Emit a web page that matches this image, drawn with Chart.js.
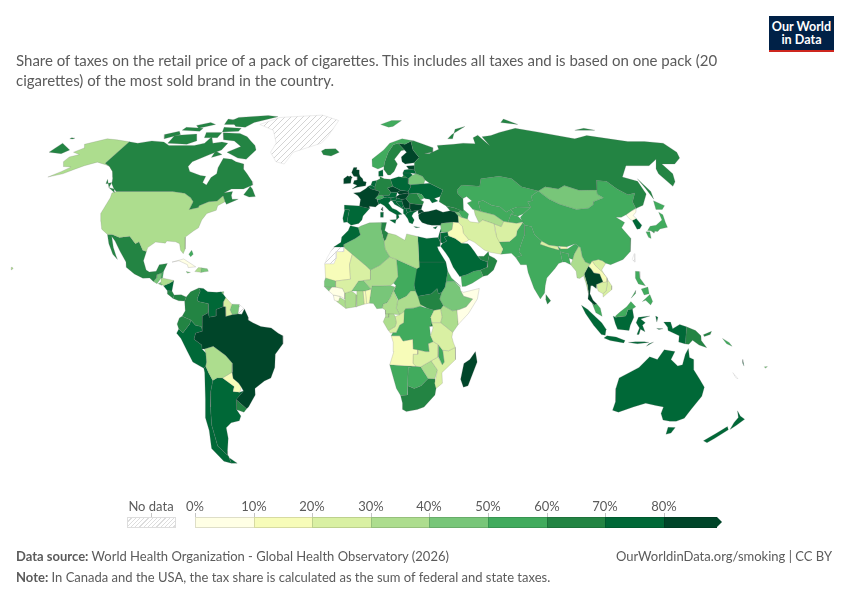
<!DOCTYPE html>
<html>
<head>
<meta charset="utf-8">
<title>Share of taxes on the retail price of cigarettes</title>
<script src="https://cdn.jsdelivr.net/npm/chart.js@4"></script>
<style>
  html, body { margin: 0; padding: 0; background: #fff; }
  #page { position: relative; width: 850px; height: 600px; overflow: hidden; font-family: Lato, "Open Sans", sans-serif; color: #5b5b5b; }
  #map { position: absolute; left: 0; top: 0; }
  .txt { position: absolute; white-space: nowrap; }
  #subtitle { left: 16px; top: 51px; font-size: 15px; line-height: 19.5px; white-space: normal; width: 720px; }
  #logo { position: absolute; left: 769px; top: 16px; width: 65px; height: 28.5px; padding-top: 5px; background: #002147; border-bottom: 2.5px solid #ce261e; color: #fff; font-weight: 700; font-size: 12.6px; line-height: 12.5px; text-align: center; }
  .lab { position: absolute; top: 498px; font-size: 13px; transform: translateX(-50%); }
  .bin { position: absolute; top: 517px; height: 11px; box-sizing: border-box; border: 1px solid rgba(0,0,0,0.13); border-width: 1px 0 1px 1px; }
  .tick { position: absolute; top: 513px; width: 1px; height: 4px; background: #c4c4c4; }
  #nodata { position: absolute; left: 127px; top: 517px; width: 49px; height: 11px; box-sizing: border-box; border: 1px solid #ddd; background: repeating-linear-gradient(135deg, #fff 0 2px, #ddd 2px 3px); }
  #arrow { position: absolute; left: 717px; top: 517px; width: 0; height: 0; border-top: 5.5px solid transparent; border-bottom: 5.5px solid transparent; border-left: 5px solid #004529; }
</style>
</head>
<body>
<div id="page">
  <canvas id="map" width="850" height="600"></canvas>
  <div class="txt" id="subtitle">Share of taxes on the retail price of a pack of cigarettes. This includes all taxes and is based on one pack (20 cigarettes) of the most sold brand in the country.</div>
  <div id="logo">Our World<br>in Data</div>
  <div id="legend"></div>
  <div class="txt" style="left:16px;top:548px;font-size:13px"><b>Data source:</b> World Health Organization - Global Health Observatory (2026)</div>
  <div class="txt" style="right:18px;top:548px;font-size:13px">OurWorldinData.org/smoking | CC BY</div>
  <div class="txt" style="left:16px;top:569px;font-size:13px"><b>Note:</b> In Canada and the USA, the tax share is calculated as the sum of federal and state taxes.</div>
</div>
<script>
// legend bins
const binLabels = ['0%', '10%', '20%', '30%', '40%', '50%', '60%', '70%', '80%'];
const binLimits = [10, 20, 30, 40, 50, 60, 70, 80, 101];
const binColors = ['#ffffe5', '#f7fcb9', '#d9f0a3', '#addd8e', '#78c679', '#41ab5d', '#238443', '#006837', '#004529'];

// tax share in percent, read from the colour of each country (null = no data)
const countries = ['Canada','USA','Greenland','Mexico','Guatemala','Belize','Honduras','El Salvador','Nicaragua','Costa Rica','Panama','Cuba','Jamaica','Haiti','Dominican Rep.','Bahamas','Trinidad',
  'Colombia','Venezuela','Guyana','Suriname','French Guiana','Ecuador','Peru','Bolivia','Paraguay','Chile','Argentina','Uruguay','Brazil',
  'Iceland','Ireland','UK','France','Spain','Portugal','Belgium','Netherlands','Germany','Denmark','Switzerland','Austria','Italy','Poland','Czechia','Slovakia','Hungary','Slovenia','Croatia','Bosnia','Serbia','Montenegro','Albania','N. Macedonia','Bulgaria','Romania','Greece','Moldova','Ukraine','Belarus','Lithuania','Latvia','Estonia','Norway','Sweden','Finland','Russia',
  'Turkey','Georgia','Armenia','Azerbaijan','Cyprus','Syria','Lebanon','Israel','Jordan','Iraq','Iran','Saudi Arabia','Yemen','Oman','UAE','Kazakhstan','Uzbekistan','Turkmenistan','Tajikistan','Kyrgyzstan','Afghanistan','Pakistan','India','Nepal','Bhutan','Bangladesh','Sri Lanka','China','Mongolia','North Korea','South Korea','Japan','Taiwan','Myanmar','Thailand','Laos','Cambodia','Vietnam','Malaysia','Indonesia','Philippines','Papua New Guinea','Solomon Is.','Vanuatu','Fiji','New Caledonia','Australia','New Zealand',
  'Morocco','Western Sahara','Algeria','Tunisia','Libya','Egypt','Sudan','South Sudan','Eritrea','Ethiopia','Somalia','Kenya','Uganda','Rwanda','Tanzania','DR Congo','Gabon','Congo','Eq. Guinea','Cameroon','CAR','Chad','Niger','Mali','Mauritania','Senegal','Guinea-Bissau','Guinea','Sierra Leone','Liberia','Ivory Coast','Ghana','Togo','Benin','Nigeria','Burkina Faso','Angola','Zambia','Malawi','Mozambique','Zimbabwe','Botswana','Namibia','South Africa','Lesotho','Eswatini','Madagascar'];
const taxShare = [65,35,null,65,45,50,35,45,75,65,65,6,45,38,45,55,40,
  65,75,25,42,null,65,75,35,14,75,75,65,85,
  65,85,85,85,75,75,75,75,65,75,55,75,75,72,85,85,85,75,75,75,85,75,75,75,85,65,75,55,75,48,75,75,85,55,65,85,65,
  85,65,42,55,75,45,72,75,75,15,25,75,55,65,65,55,55,35,55,55,25,55,55,25,15,58,65,55,45,6,70,55,null,35,85,15,22,28,55,75,55,65,55,72,42,null,75,75,
  75,null,45,65,35,75,75,65,52,45,6,35,25,62,25,55,35,25,35,35,35,55,35,25,15,45,45,6,6,32,32,32,15,14,45,45,15,25,50,25,35,55,55,65,55,45,85];

// outlines: name, then one flat lon,lat list per polygon
const outlines = [
['Russia',[28,60.5,31.5,62.8,29,66,29,69.9,31,70,41,67,40,65,35,64.5,38,64.5,44,66.3,44,68,54,68.5,60,69,67,68.7,68,71.5,72,72.7,75,68,74,72,80,72.5,87,74,100,76,113,74,130,71,140,72.5,160,69.7,170,69.7,179.9,69,179.9,65,177,62.5,170,60,163,60,163,56,160,52.8,156.7,51,155.5,56,157,58,163,62,155,59.3,142.5,59.3,135,54.7,141,53,140.3,48,135,43.6,131,42.5,130.7,42.3,131,45,135,48.4,131,47.7,127.5,50,125,53,120,53.3,117,49.6,108,49.5,102,51.3,98,50,92,50.8,87.5,49.2,80,50.8,77,54,71,55,61,54,59,51,50,51.5,47,49.5,47,48,49,46.3,48,42,47.5,41.3,44,42.6,40,43.4,37,45,38,47,40,49.6,34,52.2,32,53.5,31,55,28,56,27.5,57.6,28,59.4],
  [-180,69,-170,66,-172,64.4,-180,65],[-180,71.5,-177.5,71.3,-178,70.9,-180,71],[142,54,143.5,49,142.2,46,142,50],[52,71,56,73,68,77,60,75.5,55,71],[95,79,105,78,100,81],[137,75,150,75,145,76],[20,54.4,22.7,54.4,22,55.2,21,55.2]],
['Canada',[-141,69.6,-135,69,-128,70,-120,69.5,-115,68,-108,68,-100,68,-95,69,-94,72,-90,69,-85,69.5,-81,69,-82,66,-87,64,-94,61,-94.5,59,-92,57,-85,55.3,-82,55,-82,52.5,-79.5,51.5,-79,54.5,-77,56,-78,58.5,-78,62.4,-73,62,-70,61,-65,60,-64,58,-61,56,-57,53,-56,51.5,-60,50,-66,50,-69,48.5,-65,49,-65,47.5,-64,46,-61,46,-66,44,-67,45,-69,47.3,-71,45.3,-75,45,-79,43.5,-79,42.8,-83,42,-82.5,45,-84.5,46.5,-88.5,48.3,-95,49,-123,49,-125,50,-128,52,-130,54.5,-133,57,-137,59,-141,60.3],
  [-62,66,-64,68,-68,70,-72,72,-78,73.5,-89,73.8,-85,70.5,-78,70,-72,67.5,-78,65,-70,62.5,-65,62],[-105,73.2,-118,72.6,-117,69,-105,68.5,-101,70],[-62,82.5,-70,83.2,-90,82,-92,80,-85,77,-78,76.5,-75,79],[-118,74.5,-125,73,-122,71,-115,73],[-80,76,-92,76.5,-90,74.2,-80,74.5],[-59,47.7,-57,51,-55.5,50,-53,47,-56,46.8],[-123.5,48.5,-128,50.5,-125,50],[-96,81,-88,80,-86,78,-94,78],[-117,76.5,-105,76,-105,74.5,-117,75],[-85,65.5,-80,64,-85,62.8],[-100,74,-90,74,-90,71.5,-98,71.5],[-105,79,-100,78,-108,76,-112,77.5],[-128,50.5,-132,53.8,-131,52,-128.5,52.5]],
['USA',[-123,49,-95,49,-88.5,48.3,-84.5,46.5,-82.5,45,-83,42,-79,42.8,-79,43.5,-75,45,-71,45.3,-69,47.3,-67,45,-70,43.5,-70,41.7,-74,40.5,-75.5,38,-76,35,-78,33.8,-81,31.5,-80,27,-80.5,25.2,-82,26.5,-83,29,-85,29.7,-89,30,-89.5,29.2,-94,29.6,-97,27.5,-97.2,26,-99,26.5,-101.5,29.7,-103,29,-106.5,31.8,-111,31.3,-114.8,32.5,-117,32.5,-120.5,34.5,-122.5,37.5,-124.3,40.5,-124,46.5,-124.7,48.4],
  [-141,69.6,-141,60.3,-137,59,-133,57,-130,54.9,-134,58.5,-140,59.7,-146,60.8,-151,59.3,-154,58,-158,56,-164,54.7,-160,57,-157.5,58.8,-162,59,-165,61,-165,63,-161,64,-166,65,-163,67,-166,68.5,-157,71,-150,70.5],
  [-155.5,20,-155,19.5,-155.8,19,-156,20]],
['Greenland',[-20,75,-17,80,-30,83.5,-60,82,-70,78,-58,75,-52,69,-53,65,-48,61,-43,60,-40,65,-25,69,-22,72]],
['Mexico',[-117,32.5,-114.8,32.5,-111,31.3,-106.5,31.8,-103,29,-101.5,29.7,-99,26.5,-97.2,26,-97.8,22.5,-96,19,-94.5,18.2,-91.5,18.5,-90.5,21,-87,21.5,-88.2,18.5,-89,17.9,-91,17.2,-91,16,-92.2,14.6,-94,16,-97,15.9,-101,17.5,-105,20,-105.5,22,-109,26,-112.5,30,-114.7,31.7,-112.5,27.5,-110.5,24.5,-109.5,23,-112,25,-115,29]],
['Guatemala',[-92.2,14.6,-91,16,-91,17.2,-89.2,17.9,-89,15.9,-90.5,13.8]],['Belize',[-89.2,17.9,-88.2,18.5,-88.3,16,-89,15.9]],['Honduras',[-89,15.9,-88,15.9,-83.2,15,-85,14,-87.5,13,-89,14]],['El Salvador',[-90,13.8,-89,14.3,-87.7,13.4,-88.5,13.2]],['Nicaragua',[-87.6,13,-85,14,-83.2,15,-83.7,11,-85.7,11.1]],['Costa Rica',[-85.7,11.1,-83.7,11,-82.6,9.5,-83,8.2,-85.7,10]],['Panama',[-83,8.2,-82.6,9.5,-79.5,9.6,-77.3,8.7,-77.9,7.2,-80.5,7.3]],
['Cuba',[-85,22,-80,23.2,-74.2,20.2,-77.5,19.9,-78,21,-82,22.5]],['Jamaica',[-78.3,18.4,-76.3,18.1,-77.5,17.8]],['Haiti',[-74.4,18.4,-73,19.9,-71.7,19.8,-71.7,18.1]],['Dominican Rep.',[-71.7,19.8,-69,19.5,-68.4,18.5,-70,18.3,-71.7,18]],['Bahamas',[-78,25,-77,26.5,-76,25,-77,24]],['Trinidad',[-61.8,10.1,-61,10.1,-61,10.8,-61.7,10.7]],
['Brazil',[-60,5,-59.8,1.3,-57,2,-54.5,2.3,-52.8,2.2,-51.7,4.2,-50,1,-50,0,-48,-1,-44.5,-2.5,-40,-3,-37,-5,-35,-6,-35,-9,-38.5,-13,-39,-18,-41,-22,-44,-23.2,-48.5,-26,-48.7,-28.5,-52.5,-33,-53.5,-33.7,-57.6,-30.2,-53.8,-27,-54.5,-25.5,-55.5,-24,-57.8,-22.2,-58,-19.8,-57.5,-16.5,-60.3,-13.5,-65.5,-10,-69.5,-11,-70.5,-11,-70.5,-9.5,-73.8,-7.3,-73,-5,-69.9,-4.2,-70,1.5,-67.5,2.8,-67,1,-64,1.5,-64,4,-61,5]],
['Colombia',[-77.3,8.7,-75.5,10.7,-72,12.2,-71.3,11,-72.5,8,-72,7,-67.5,6.2,-67.5,2.8,-70,1.5,-69.9,-4.2,-70.5,-2.5,-73,-2,-75,0,-78.8,1.4,-77.5,3.5,-77.9,7.2]],
['Venezuela',[-71.3,11,-72,12.2,-70,12,-68,10.7,-64,10.5,-62,10.7,-60,8.5,-61,6.8,-61,5,-64,4,-64,1.5,-67,1,-67.5,2.8,-67.5,6.2,-72,7,-72.5,8]],
['Guyana',[-60,8.5,-57.2,6,-58,3.8,-57,2,-59.8,1.3,-60,5,-61,5,-61,6.8]],['Suriname',[-57.2,6,-54,5.9,-54.5,2.3,-57,2,-58,3.8]],['French Guiana',[-54,5.9,-51.7,4.2,-52.8,2.2,-54.5,2.3]],
['Ecuador',[-78.8,1.4,-75,0,-75.5,-1.5,-78.5,-4.8,-80.3,-3.4,-81,-1.5,-80,0.8]],
['Peru',[-80.3,-3.4,-78.5,-4.8,-75.5,-1.5,-75,0,-73,-2,-70.5,-2.5,-69.9,-4.2,-73,-5,-73.8,-7.3,-70.5,-9.5,-70.5,-11,-69,-12.5,-69,-16,-69.5,-17.5,-70.4,-18.3,-75,-16,-77,-12,-79.5,-7,-81.3,-5]],
['Bolivia',[-69.5,-11,-65.5,-10,-60.3,-13.5,-57.5,-16.5,-58,-19.8,-62.5,-22,-65,-22,-67,-23,-68.5,-20,-69.5,-17.5,-69,-16,-69,-12.5]],
['Paraguay',[-62.5,-22,-58,-19.8,-57.8,-22.2,-55.5,-24,-54.5,-25.5,-55.5,-27.4,-58.5,-27.2,-57.7,-25.3]],
['Chile',[-69.5,-17.5,-68.5,-20,-67,-23,-68.5,-27,-70,-33,-71.5,-40,-72,-48,-68.5,-52,-68.6,-54.8,-72,-54,-75.5,-49,-73.5,-42,-73.5,-37,-71.5,-30,-70.2,-20,-70.4,-18.3]],
['Argentina',[-67,-23,-65,-22,-62.5,-22,-57.7,-25.3,-58.5,-27.2,-55.5,-27.4,-53.8,-27,-57.6,-30.3,-58.2,-34,-56.8,-36.5,-58,-38.3,-62,-39,-65,-41,-65.5,-45,-68,-50,-69,-52,-68.5,-52,-72,-48,-71.5,-40,-70,-33,-68.5,-27],[-68.5,-52.6,-68.6,-54.8,-65.5,-54.8]],
['Uruguay',[-57.6,-30.2,-53.5,-33.7,-55,-35,-58.4,-34]],
['Iceland',[-24,65.5,-22,66.4,-16,66.5,-13.6,65,-18,63.4,-22.5,63.9]],['Ireland',[-10,52,-10,54,-8,55.2,-6,54.2,-6.3,52.2]],
['UK',[-5.5,50,-3,50.6,1.3,51.2,1.7,52.7,0.2,53,-0.2,54,-1.5,55,-2,56,-2,57.6,-3.5,57.7,-3.2,58.6,-5,58.6,-6,56.5,-4.8,55,-3,54.8,-3,53.5,-4.5,53.3,-5,52,-3,51.4],[-8,54.5,-6.5,55.2,-5.5,54.4,-6.5,54]],
['France',[-4.7,48.4,-1.5,48.7,1.5,50.1,2.6,51,4.2,50,6,49.6,8.2,49,7.6,47.6,6,46.3,6.8,46,7.5,44,6,43,3,43.3,3.2,42.4,-1.7,43.3,-1.2,46,-2.5,47.3],[8.6,42,9.4,43,9.4,41.4]],
['Spain',[-9,43.7,-1.7,43.4,3.2,42.4,0,39.5,-0.5,38,-2,36.7,-5.5,36,-7.4,37.2,-7,39.6,-6.5,41.9,-8.7,42]],['Portugal',[-8.7,42,-6.5,41.9,-7,39.6,-7.4,37.2,-9,37,-9.5,38.7]],
['Belgium',[2.6,51,4,51.4,6,50.7,6,49.6,4.2,50]],['Netherlands',[4,51.4,4.8,53,7,53.3,6,50.7]],
['Germany',[6,50.7,7,53.3,8.8,54,8.8,54.9,11,54,14.2,53.8,15,51,12.3,50.3,13.8,48.7,13,47.5,9.6,47.5,7.6,47.6,8.2,49,6,49.6]],['Denmark',[8.2,55,8.3,57,10.6,57.7,10.5,55]],
['Austria',[9.6,47.5,13,47.5,13.8,48.7,17,48.6,16.3,46.9,13.7,46.5,12,46.8,10.4,46.6]],['Switzerland',[6,46.3,7.6,47.6,9.6,47.5,10.4,46.6,8.5,46,6.8,46]],
['Italy',[7,45.9,8.5,46,10.4,46.6,12,46.8,13.7,46.5,13.6,45.5,12.3,44.5,14,42.5,16,41.8,18.5,40.2,16.7,40,17,39,15.7,38,15.8,40,12.5,41.5,10.3,43.5,8.5,44.3,7.5,44],[12.5,38,15.6,38.2,15,36.7],[8.3,39,8.3,41,9.7,41,9.5,39]],
['Poland',[14.2,53.8,18.5,54.8,23,54.4,23.5,54,23,52,24,51.6,24,50.6,22.5,49.1,18.8,49.5,15,51]],['Czechia',[12.3,50.3,15,51,18.8,49.5,17,48.6,13.8,48.7]],['Slovakia',[17,48.6,18.8,49.5,22.5,49.1,22.8,48,22,48.4,18,47.8]],['Hungary',[16.3,46.9,18,47.8,22,48.4,22.8,48,21,46.2,19,45.9,16.5,46.5]],['Slovenia',[13.7,46.5,16.3,46.9,16.5,46.5,16,45.6,13.6,45.5]],['Croatia',[13.6,45.5,16,45.6,16.5,46.5,19,45.9,19,45,16,45,18.5,42.5,15.2,44,14.3,45.2]],['Bosnia',[16,45,19,45,19.4,43.5,18.5,42.5]],['Serbia',[19,45.9,21,46.2,22.7,44.3,22.4,42.4,20.5,42.5,20,42.5,19.4,43.5,19,45]],['Montenegro',[18.5,42.5,19.4,43.5,20,42.5,19.3,42]],['Albania',[19.3,42,20,42.5,20.5,42.5,21,40.9,20,39.7,19.4,40.4]],['N. Macedonia',[20.5,42.5,22.4,42.4,23,41.3,21,40.9]],
['Bulgaria',[22.7,44.3,28.7,43.7,27.8,42,26.3,41.7,23,41.3,22.4,42.4]],['Romania',[22.8,48,26.6,48.3,28.2,45.7,29.6,45,28.7,43.7,22.7,44.3,21,46.2]],['Greece',[20,39.7,21,40.9,23,41.3,26.3,41.7,24,40.7,23,39.5,24,38,23,36.5,21.5,37,21,38.5],[23.5,35.5,26.3,35.2,24.5,35]],['Moldova',[26.6,48.3,29,47.9,30,46.4,28.2,45.7]],
['Ukraine',[22.5,49.1,24,50.6,24,51.6,31,52,34,52.2,40,49.6,38,47,35,46.3,36.5,45.3,33.5,44.5,32.5,46,30.7,46.2,30,46.4,29,47.9,26.6,48.3,22.8,48]],['Belarus',[23,52,24,51.6,31,52,32,53.5,31,55,28,56,26,55.5,23.5,54]],['Lithuania',[23.5,54,26,55.5,25,56.3,21,56.3,21.1,55.2,22.7,54.4]],['Latvia',[21,56.3,25,56.3,28,56,27.5,57.6,24.5,57.9,22,57.6]],['Estonia',[24.5,57.9,27.5,57.6,28,59.4,23.5,59.2]],
['Norway',[5,59,5,62,12,66,16,69,24,71,31,70,29,69.9,25,68.5,21,69,18,68.3,14.5,65,12,61,11.3,59,8,58],[12,78,20,80,27,80,20,77,17,76.6]],['Sweden',[11.3,59,12,61,14.5,65,18,68.3,21,69,24,66,22,65.7,17.5,62,18.8,60,16.5,57,14.3,55.5,13,55.5,11,58]],['Finland',[21,69,25,68.5,29,69.9,29,66,31.5,62.8,28,60.5,23,60,21.5,61,21.5,63,25,65,24,66]],
['Turkey',[26.2,40,28,41,31,41.2,35,42,38,41,41.5,41.5,43.5,41.1,44.8,39.7,44.5,37,42,37.2,36.5,36.8,36,36,32,36,30,36.3,27.5,37,26.3,38.5],[26.3,41.7,27.8,42,29,41.2,26.5,40.4]],
['Georgia',[40,43.4,44,42.6,46.5,41.8,45.5,41,43.5,41.1,41.5,41.5]],['Armenia',[43.5,41.1,45.5,41,46.5,39,44.8,39.7]],['Azerbaijan',[45.5,41,46.5,41.8,48,42,50,40.3,49,38.4,46.5,39]],['Cyprus',[32.3,35,34.5,35.6,33.5,34.6]],
['Syria',[36,36,36.5,36.8,42,37.2,41,34.4,38.8,33.4,36,33.3]],['Lebanon',[35.1,33.1,36,33.3,36.5,34.5,36,34.7]],['Israel',[34.3,31.3,35.1,33.1,35.6,33,35.5,31,35,29.5]],['Jordan',[35,29.5,35.5,31,35.6,33,38.8,33.4,39,32,37,31.5,38,30,36,29.2]],
['Iraq',[38.8,33.4,41,34.4,42,37.2,44.5,37,46,35.5,46,33,48,30.5,47.5,30,44.7,29.2,42,31,39,32]],
['Iran',[44.8,39.7,46.5,39,49,38.4,50,37.3,54,36.9,56,38,61,36.5,60.8,34,61,31.5,63,27,61.7,25,57,25.7,54.5,26.6,50.5,29.5,48.8,30.3,48,30.5,46,33,46,35.5,44.5,37]],
['Saudi Arabia',[36,29.2,38,30,37,31.5,39,32,42,31,44.7,29.2,47.5,29,48.5,28,50,26,51,24.5,52.6,22.9,55.5,22,55,20,52,19,49,18.5,46,17.3,43.2,16.6,42.7,16.4,40,20,38.5,23.5,37,25.5,35,28]],
['Yemen',[43.2,16.6,46,17.3,49,18.5,52,19,53,16.6,48,14,45,12.8,43.5,12.7]],['Oman',[52,19,55,20,55.5,22,56.4,24.5,58.7,23.5,59.8,22.5,57.8,19,55,17,53,16.6]],['UAE',[51.5,24.2,52.6,22.9,55.5,22,56.4,24.5,56.3,26,54,24.2]],
['Kazakhstan',[47,49.5,50,51.5,59,51,61,54,71,55,77,54,80,50.8,87.5,49.2,83,47.2,82.5,45.4,80,45,80.5,42.9,74,43,70.5,42,68,41,66,43,62,43.6,58.5,45.5,56,45,56,41.3,53,42,52.5,42,50.5,44.5,53,45.3,51,47,49,46.3,47,48]],
['Uzbekistan',[56,45,58.5,45.5,62,43.6,66,43,68,41,70.5,42,71.5,41,70,40.2,67.7,37.2,65.7,37.5,62,40,56,41.3]],['Turkmenistan',[53,42,56,41.3,62,40,65.7,37.5,64,35.5,61,36.5,56,38,54,36.9,53,40]],['Tajikistan',[67.7,37.2,70,40.2,73,39.4,75,37.3,71.5,36.8]],['Kyrgyzstan',[70.5,42,74,43,80.5,42.9,76,40.4,73,39.4,70,40.2,71.5,41]],
['Afghanistan',[61,36.5,64,35.5,65.7,37.5,67.7,37.2,71.5,36.8,74.5,37,71,34,70,32,66.5,29.8,61,29.6,60.8,31,61,34]],['Pakistan',[61,29.6,66.5,29.8,70,32,71,34,74.5,37,75,36,74,32.5,71,28,70,26,71,24.5,68.2,23.7,66.5,25.4,61.7,25,63,27]],
['China',[74,39,76,40.4,80.5,42.9,80,45,82.5,45.4,83,47.2,87.5,49.2,91,46,95,44,102,42,108,42.5,111.5,44,112,45,118,46.5,116,47.9,117,49.6,120,53.3,125,53,127.5,50,131,47.7,135,48.4,131,45,130.7,42.5,128,41.5,124.3,40,121.5,39,119,39,122,37,119.5,35,122,31,120,26,116,23,110,21,108,21.6,106.7,22.5,105,23,102,22.4,101,21.3,99,22,98,24,98,27.5,97.3,28,96,29,92,27.8,89,28,88,28,84,28.5,81,30,78.5,32.5,78,35.5,75,36,74.5,37]],
['India',[75,36,78,35.5,78.5,32.5,81,30,80,28.8,84,27.5,88.2,26.5,88,28,89,27,92,27,96,29,97.3,28,94.5,25,93.5,23,92,23.5,92,25.3,89.8,25.5,88.5,26,88.8,22,87,21.5,85,19.5,81,16,80,13,79.5,10.3,77.5,8,75,12,73,18,72.7,21,70,21,69,22.5,68.2,23.7,71,24.5,70,26,71,28,74,32.5]],
['Nepal',[80,28.8,81,30,84,28.5,88,28,88.2,26.5,84,27.3]],['Bhutan',[89,27,89,28,92,28,92,27]],['Bangladesh',[88.5,26,89.8,25.5,92,25.3,92,23.5,92.3,21,90,22,88.8,22]],['Sri Lanka',[80,9.7,82,7.3,80.5,6,79.8,8]],
['Mongolia',[87.5,49.2,92,50.8,98,50,102,51.3,108,49.5,117,49.6,116,47.9,118,46.5,112,45,111.5,44,108,42.5,102,42,95,44,91,46]],['North Korea',[124.3,40,128,41.5,130.7,42.3,129.7,41,127.5,39.7,128.3,38.6,126,37.8,125,38.5]],['South Korea',[126,37.8,128.3,38.6,129.4,36,127.8,34.7,126.4,34.5]],
['Japan',[131,34,133,35.6,136,36,140,38,140.5,41,141.7,40,141,37,140.8,35.2,137,34.6,135.5,33.6],[140,42,141.5,45.4,145.3,43.5,143,42],[130,33.5,131.8,33.5,131.2,31,130.2,31.4],[132.5,33.9,134.5,34.2,133.5,33]],['Taiwan',[120,23,121.5,25.2,121,22]],
['Myanmar',[92.3,21,93.5,23,94.5,25,97.3,28,98,27.5,98,24,99,22,101,21.3,100,20.4,97.7,17.5,98.6,13,98.7,10,98,14,97.3,16.8,95.5,15.8,94.3,16,94.3,18.5]],
['Thailand',[98.7,10,98.6,13,97.7,17.5,100,20.4,101,19.5,102,17.9,104.5,17.5,105.5,14.5,102.5,13.5,102.3,12,100.8,13,100,13,99.3,10,100.5,7.5,102,6.2,101,5.7,100,6.5,98.3,8]],
['Laos',[100.2,20.5,101,21.3,102,22.4,103,20.8,106,18,107.5,16,107.3,14.6,105.5,14.2,104.5,17.5,102,17.9,101,19.5]],['Cambodia',[102.5,13.5,105.5,14.5,107.5,14.6,106.5,11,105,10,103,11]],['Vietnam',[102,22.4,105,23,106.7,22.5,108,21.6,105.7,19,107,16.5,109.2,13,109,11.5,106.7,10,105,8.7,105,10,106.5,11,107.5,14.6,107.5,16,106,18,103,20.8]],
['Malaysia',[100,6.5,101,5.7,102,6.2,103.5,4.5,104.2,1.4,101.5,2.8],[110,1.5,112,3,115,5,117,7,119,5,117.5,4.2,115.5,4,114.5,1.5,110,1]],
['Indonesia',[95.3,5.6,98,4,104,-1,106,-3.5,105.7,-5.8,104,-5.5,100.5,-2,97,2.5],[105.2,-6.8,106.5,-6,110.5,-6.5,114.5,-7.8,114,-8.7,108,-7.8],[109,1.5,110,1,114.5,1.5,115.5,4,117.5,4.2,118,1,116.5,-2,116,-4,111,-3.5,110,-1.5],[119.5,-5.5,120.5,-3,119,-1,120,1,125,1.5,121,0.4,123,-1,121.8,-2,123,-4.5,121,-3.5,120.4,-5.5],[131,-0.8,134,-0.8,135,-3.3,138,-1.7,141,-2.6,141,-9.1,138,-8.4,138,-6,133,-4,132.8,-2.8],[116,-8.5,119,-8.3,123,-8.3,125,-8.5,120,-9],[124,-10,127,-8.4,125,-9],[127.5,1.5,128.5,1,128,-0.8],[128,-3.2,130.8,-3.3,129,-3.6]],
['Philippines',[120.5,18.5,122.2,18.4,122,16,124,13,121,13.7,120,16],[122,7,125.5,9.7,126.5,7,125.5,5.7,123.5,7.5],[117.2,8.3,119.5,11.2,119.2,10],[122,11.8,125,12.5,125.2,10,123,9.5]],
['Papua New Guinea',[141,-2.6,145,-4,147.5,-6,147.8,-7.8,150.5,-10.5,147,-9.5,144,-7.7,142.5,-9.2,141,-9.1],[148.5,-5.6,152,-4.3,151.5,-5.5,149,-6.3]],['Solomon Is.',[157,-7,160,-8.5,161.5,-10,159,-9]],['Vanuatu',[167,-15,167.5,-16.5,168.3,-17.5]],['Fiji',[177.3,-17.8,178.7,-17.7,178,-18.3]],['New Caledonia',[164,-20,167,-22.3,166,-22]],
['Australia',[114,-22,113.5,-26,115,-31,115,-34.3,118,-35,124,-33,129,-31.6,134,-32.5,137.8,-33,138,-35.5,140.5,-38,144,-38.5,147,-38.5,150,-37.3,151,-34,153.3,-29,153,-25.5,150,-22.5,146.5,-19,145.5,-15,143.5,-14.2,142.5,-10.8,141.5,-13,141,-17,139,-17.5,135.5,-15,136.8,-12,132,-11.3,129.5,-15,126,-14,122,-18,118,-20],[144.8,-40.8,148.3,-40.9,148,-43,146,-43.5]],
['New Zealand',[172.7,-34.5,175.5,-36.5,178.5,-37.7,176.5,-40,175,-41.6,174.5,-39,175,-37],[172.7,-40.5,174.3,-41.7,171,-45,169,-46.7,166.5,-46,170,-43]],
['Morocco',[-5.9,35.8,-2.2,35.1,-1.2,32.3,-3.5,31,-8.7,28.7,-8.7,27.7,-13.2,27.7,-10,29.5,-9.7,31.5,-6.8,34]],['Western Sahara',[-13.2,27.7,-8.7,27.7,-8.7,26,-12,26,-12,23.5,-13,21.4,-17,21.4,-16,23.7,-14.5,26]],
['Algeria',[-2.2,35.1,-1,35.7,3,36.9,8.5,37,8.3,34.5,9.5,30,9.9,27,11.9,24,7.5,20.8,3.3,19,1.2,20.7,-4.8,25,-8.7,27.7,-8.7,28.7,-3.5,31,-1.2,32.3]],['Tunisia',[8.5,37,11,37,10,34,11.5,33,10.3,30.5,9.5,30,8.3,34.5]],['Libya',[9.5,30,10.3,30.5,11.5,33,15,32.3,19,30.3,20,32.7,25,31.7,25,20,24,19.5,15,23,11.9,24,9.9,27]],['Egypt',[25,31.7,29,31,32.3,31.2,34.3,31.3,35,29.5,34.8,28,33.5,27.8,34,26.5,36.9,22,25,22]],
['Sudan',[25,22,36.9,22,37.5,18.5,36.5,14.5,36,12.5,34.5,10.5,33,10,32.5,12,30,10,27,9.5,24,9,23,11,22.5,13,23,15.7,24,20,25,20]],['South Sudan',[24,9,27,9.5,30,10,32.5,12,33,10,34.5,10.5,33.5,8,35,5.5,33.9,4.2,31,3.7,28,4.5,25,6]],['Eritrea',[36.5,14.5,37.5,18.5,39,16,43,12.7,40,14.7]],['Ethiopia',[36,12.5,36.5,14.5,40,14.7,42.5,12.5,42.8,11,44,9,47.9,8,45,5,42,4,39,3.5,35,5.5,33.5,8,34.5,10.5]],['Somalia',[42.8,11,44,10.5,51,12,50,8,46,2.5,41.5,-1.7,41,3.8,42,4,45,5,47.9,8,44,9]],['Kenya',[33.9,4.2,35,5.5,39,3.5,41,3.8,41.5,-1.7,39.2,-4.7,33.9,-1,34.5,1.2]],['Uganda',[30,-1,29.5,1,31,3.7,33.9,4.2,34.5,1.2,33.9,-1]],['Tanzania',[30,-1,33.9,-1,39.2,-4.7,38.8,-6.5,39.5,-8.5,40.4,-10.4,37.5,-11.7,34.9,-11.5,33,-9.4,30.7,-8.2,29.5,-6,30.5,-3]],['Rwanda',[30,-1,29,-2.5,30.8,-2.3]],
['DR Congo',[12.3,-6,13,-4.8,14.5,-4.8,16,-2,17.8,-1,18,3.5,18.6,4.3,22,4.5,25,5.2,28,4.5,31,3.7,29.5,1,30,-1,29,-2.5,29.5,-6,30.7,-8.2,28.5,-9,29,-12,27.5,-12,25,-11.5,22,-11,21.8,-7.3,17.5,-8,16,-6]],['Gabon',[8.8,-0.7,9.6,1,11.3,1,11.3,2.3,13.5,2.2,14,1.3,14.5,-1,14,-2.5,11.5,-3.8,11,-4]],['Congo',[11.2,-4.1,12,-5,13,-4.8,14.5,-4.8,16,-2,17.8,-1,18.6,3.5,16,2,14,1.3,14.5,-1,14,-2.5,11.5,-3.8]],['Eq. Guinea',[9.8,2.2,11.3,2.3,11.3,1,9.6,1]],['Cameroon',[8.5,4.5,9.7,3.8,9.8,2.2,13.5,2.2,16,2,14.5,4.5,15.2,7.5,13.5,11,14.5,13,14,12.5,12,8.5,10.5,6.5,8.8,6]],['CAR',[14.5,4.5,16,2,18.6,3.5,18.6,4.3,22,4.5,25,5.2,27.5,5.2,24,9,23,11,21,11,19,9,15.2,7.5]],['Chad',[15,23,24,19.5,24,15.7,22.5,13,23,11,21,11,19,9,15.5,7.5,13.5,11,14.5,13,13.5,14,15.5,16.5]],['Niger',[3.3,19,7.5,20.8,11.9,24,15,23,15.5,16.5,13.5,14,12,13.1,8,13,4,13,3.6,11.7,0.2,15,3.3,15.3]],['Mali',[-4.8,25,1.2,20.7,3.3,19,3.3,15.3,0.2,15,-2,14.8,-5,11,-8,10.2,-9,12,-12,12.5,-12,14.8,-5.5,15.5,-6,21]],['Mauritania',[-17,21.4,-13,21.4,-12,23.5,-12,26,-8.7,26,-8.7,27.7,-4.8,25,-6,21,-5.5,15.5,-12,14.8,-16.5,16]],['Senegal',[-17,14.7,-16.5,16,-14,16.5,-12,14.8,-12,12.5,-16.7,12.5]],['Guinea-Bissau',[-16.7,12.4,-13.7,12.5,-15,11]],['Guinea',[-15,11,-13.7,12.5,-12,12.5,-9,12,-8,10.2,-8,8,-10,9,-13,9.5]],['Sierra Leone',[-13,9.5,-10,9,-10.7,7,-12.5,7.5]],['Liberia',[-11.5,7,-10,8.5,-8,7.5,-7.5,4.4]],['Ivory Coast',[-8,8,-8,10.2,-5,11,-2.7,9.5,-3,5,-7.5,4.4]],['Ghana',[-3,5,-2.7,11,0,11,0.5,6]],['Togo',[0,11,1,11,1.6,6.2,0.5,6]],['Benin',[1,11,3.6,11.7,2.7,6.4,1.6,6.2]],['Nigeria',[2.7,6.4,3.6,11.7,4,13,8,13,12,13.1,14,12.5,12,8.5,10.5,6.5,8.8,6,8.5,4.5,6,4.3,4.5,6.3]],['Burkina Faso',[-5,11,-2,14.8,0.2,15,3.6,11.7,1,11,-2.7,11]],
['Angola',[11.8,-17,13.5,-12,13.2,-8.5,12.3,-6,16,-6,17.5,-8,21.8,-7.3,22,-11,24,-11,24,-13,22,-13,22,-16.5,23.4,-17.6,18.5,-17.4]],['Zambia',[22,-13,24,-13,24,-11,25,-11.5,27.5,-12,29,-12,28.5,-9,30.7,-8.2,33,-9.4,33,-14,30,-15.5,28,-16.5,25.5,-17.8,23.4,-17.6,22,-16.5]],['Malawi',[33,-9.4,34.9,-11.5,35.8,-16,35,-17,33.2,-14]],['Mozambique',[40.4,-10.4,40.7,-15,35,-20,35.5,-24,32.8,-26,32,-24,33,-19,30,-15.5,33,-14,35,-17,35.8,-16,34.9,-11.5,37.5,-11.7]],['Zimbabwe',[25.5,-17.8,28,-16.5,30,-15.5,33,-19,32,-22.3,29,-22.2]],['Botswana',[20,-18,23.4,-17.6,25.5,-17.8,29,-22.2,26,-25,23,-26,20,-25]],['Namibia',[11.8,-17,18.5,-17.4,23.4,-17.6,20,-18,20,-28.5,17,-28.7,15,-26,13,-20.5]],['South Africa',[17,-28.7,20,-28.5,20,-25,23,-26,26,-25,29,-22.2,32,-22.3,32.8,-26,32.5,-28.5,28,-33,25,-34,20,-34.8,18.3,-34,18,-31.5]],['Lesotho',[28,-29,29.3,-29.7,28,-30.5]],['Eswatini',[31,-26,32,-26,31.5,-27.3]],['Madagascar',[49.3,-12,50.3,-16,47,-25,45,-25.5,43.5,-22.5,44.5,-16.5,47,-15]]
];

// Robinson projection table, one row per 5 degrees of latitude
const plen = [1,.9986,.9954,.99,.9822,.973,.96,.9427,.9216,.8962,.8679,.835,.7986,.7597,.7186,.6732,.6213,.5722,.5322];
const pdfe = [0,.062,.124,.186,.248,.31,.372,.434,.4958,.5571,.6176,.6769,.7346,.7903,.8435,.8936,.9394,.9761,1];

function project(lon, lat) {
    const a = Math.min(Math.abs(lat), 89.99) / 5;
    const i = Math.floor(a);
    const t = a - i;
    const len = plen[i] + (plen[i + 1] - plen[i]) * t;
    const dfe = pdfe[i] + (pdfe[i + 1] - pdfe[i]) * t;
    return { x: 0.8487 * len * lon * Math.PI / 180, y: 1.3523 * dfe * Math.sign(lat) };
}

function colorFor(value) {
    return binColors[binLimits.findIndex(l => value < l)];
}

// hatch used for countries without data
function hatchPattern() {
    const c = document.createElement('canvas');
    c.width = c.height = 6;
    const g = c.getContext('2d');
    g.fillStyle = '#fff';
    g.fillRect(0, 0, 6, 6);
    g.strokeStyle = '#d4d4d4';
    g.lineWidth = 1;
    g.beginPath();
    g.moveTo(0, 6); g.lineTo(6, 0);
    g.moveTo(-1, 1); g.lineTo(1, -1);
    g.moveTo(5, 7); g.lineTo(7, 5);
    g.stroke();
    return g.createPattern(c, 'repeat');
}

function buildDatasets() {
    const hatch = hatchPattern();
    const sets = [];
    outlines.forEach(row => {
        const value = taxShare[countries.indexOf(row[0])];
        row.slice(1).forEach(flat => {
            const pts = [];
            for (let i = 0; i < flat.length; i += 2) pts.push(project(flat[i], flat[i + 1]));
            pts.push(pts[0]);
            sets.push({
                label: row[0],
                data: pts,
                showLine: true,
                fill: 'shape',
                backgroundColor: value === null ? hatch : colorFor(value),
                borderColor: value === null ? '#d8d8d8' : 'rgba(110,110,110,0.4)',
                borderWidth: 0.5,
                pointRadius: 0,
                tension: 0
            });
        });
    });
    return sets;
}

function buildLegend() {
    const box = document.getElementById('legend');
    let html = '<div class="lab" style="left:151px">No data</div><div id="nodata"></div><div class="tick" style="left:151px"></div>';
    const left = 195, step = 58.6;
    binColors.forEach((color, i) => {
        const x = Math.round(left + i * step);
        const end = i === binColors.length - 1 ? 717 : Math.round(left + (i + 1) * step);
        html += `<div class="bin" style="left:${x}px;width:${end - x}px;background:${color}"></div>`;
        html += `<div class="tick" style="left:${x}px"></div>`;
        html += `<div class="lab" style="left:${x}px">${binLabels[i]}</div>`;
    });
    html += '<div id="arrow"></div>';
    box.innerHTML = html;
}

document.addEventListener('DOMContentLoaded', function() {
    buildLegend();
    const Rx = 155, Ry = 157, cx = 363, cy = 320;
    new Chart(document.getElementById('map').getContext('2d'), {
        type: 'scatter',
        data: { datasets: buildDatasets() },
        options: {
            responsive: false,
            animation: false,
            layout: { padding: 0 },
            plugins: { legend: { display: false }, tooltip: { enabled: false } },
            scales: {
                x: { type: 'linear', display: false, min: -cx / Rx, max: (850 - cx) / Rx },
                y: { type: 'linear', display: false, min: -(600 - cy) / Ry, max: cy / Ry }
            }
        }
    });
});
</script>
</body>
</html>
